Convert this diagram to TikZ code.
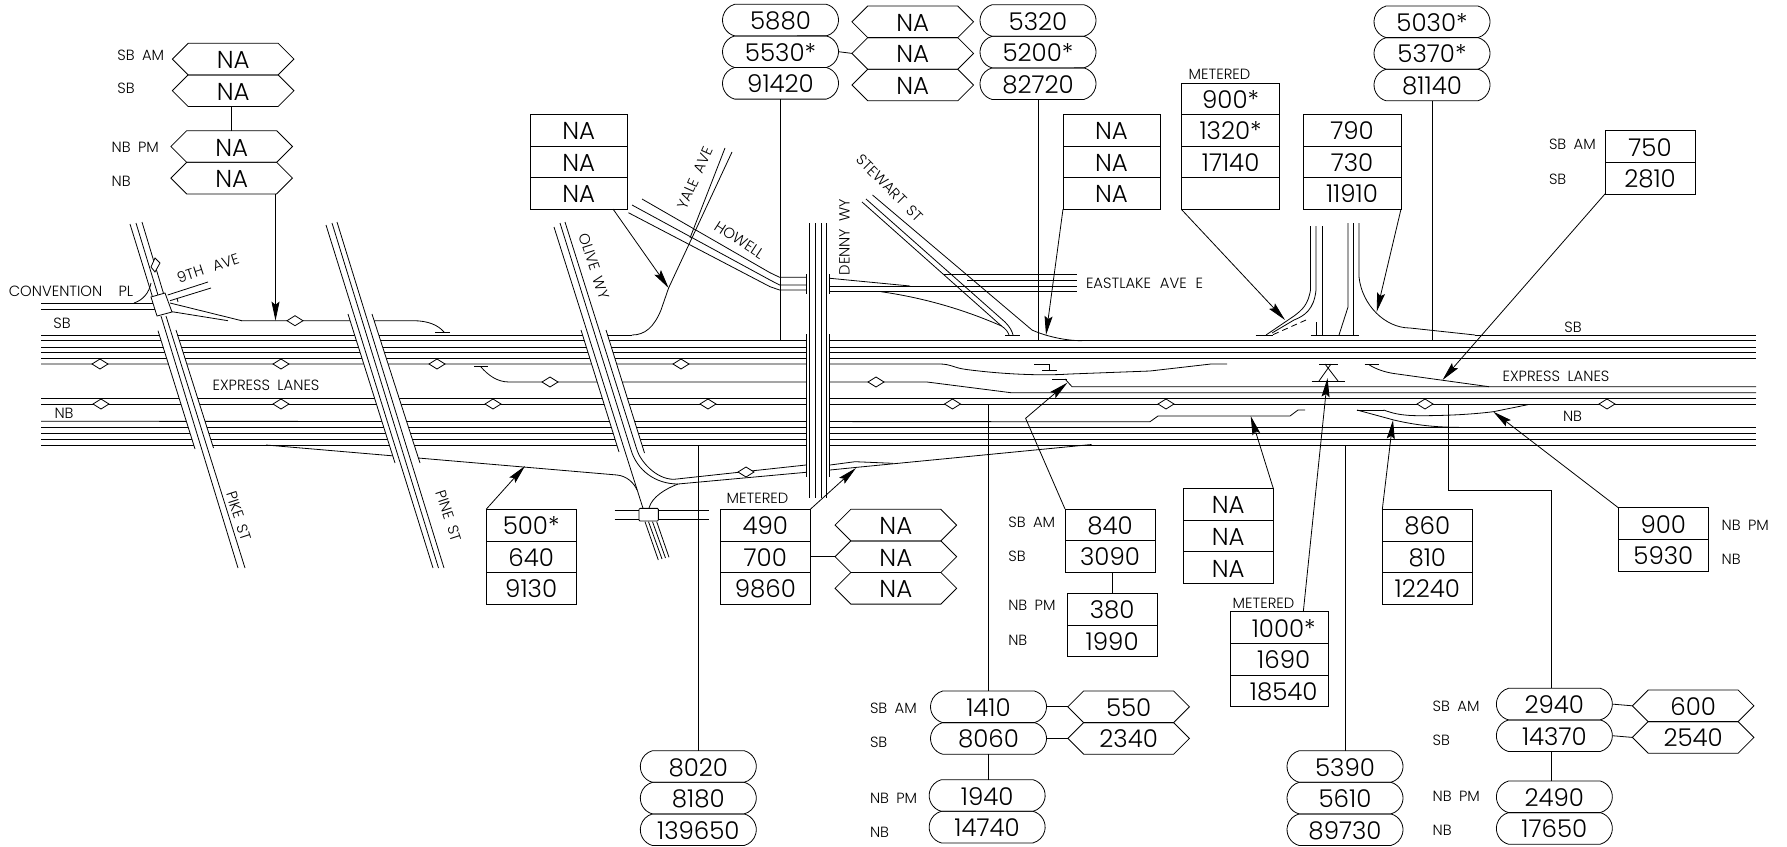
\documentclass[tikz,border=0pt]{standalone}
\usepackage{fontspec}
\setmainfont{Poppins}[UprightFont=* Light]
\usetikzlibrary{arrows.meta,shapes.geometric,shapes.symbols,shapes.misc}
\tikzset{
 ln/.style={line width=0.8pt,line join=miter},
 bigtxt/.style={font=\fontsize{24.5}{24.5}\selectfont,text height=19pt,text depth=0pt},
 rowbox/.style={draw,ln,rectangle,minimum width=90pt,minimum height=31.6pt,inner sep=0pt,outer sep=0pt,bigtxt},
 pillbox/.style={draw,ln,rounded rectangle,rounded rectangle arc length=150,minimum width=116pt,minimum height=31.6pt,inner sep=0pt,outer sep=0pt,bigtxt},
 hexbox/.style={draw,ln,signal,signal to=east and west,signal pointer angle=90,minimum width=121.6pt,minimum height=31.6pt,inner sep=0pt,outer sep=0pt,bigtxt},
 lab/.style={inner sep=0pt,outer sep=0pt,font=\fontsize{14.8}{14.8}\selectfont},
 dia/.style={draw,ln,fill=white,diamond,aspect=1.6,minimum width=16pt,minimum height=10pt,inner sep=0pt,outer sep=0pt},
 arr/.style={ln,-{Stealth[length=19pt,width=8pt,inset=3pt]}},
 bridgefill/.style={fill=white,draw=none},
}
\newcommand{\Stack}[5]{\foreach \t [count=\i] in {#5} {\node[#1] (#2-\i) at (#3,{#4+(\i-0.5)*31.6}) {\t};}}
\newcommand{\Lab}[5][]{\node[lab,#1] (#2) at (#3,#4) {#5};}
\begin{document}
\begin{tikzpicture}[x=1pt,y=-1pt,ln]
\useasboundingbox (0,0) rectangle (1787,846);
\fill[white] (0,0) rectangle (1787,846);
% ---- freeway
\foreach \y in {340.7,347,352.5,358.5,398.3,404,427.3,433.3,439,445} \draw (41,\y) -- (1756,\y);
\draw (41,335) -- (632,335);
\draw (1475,335) -- (1756,335);
\draw (41,421.3) -- (1150,421.7) -- (1158,416) -- (1290,416) -- (1298,410) -- (1305,410);
\draw (41,364) -- (940,364) .. controls (950,364) and (955,368) .. (965,369.3) .. controls (1000,374) and (1040,376) .. (1070,374) -- (1150,371) -- (1211,364) -- (1227,364);
% T marks and ramps
\draw (241,320.7) -- (413,320.7) .. controls (428,320.7) and (438,325) .. (444,332);
\draw (435,332) -- (450,332);
\draw (474,366) -- (488,366);
\draw (481,367) .. controls (488,375) and (497,382) .. (509,382) -- (927,382) -- (1011,392.7) -- (1756,392.7);
\draw (1034,364) -- (1049,364) -- (1049,370);
\draw (1042,370) -- (1057,370);
\draw (1052,379) -- (1067,379);
\draw (1065,379) -- (1072,386.7) -- (1756,386.7);
\draw (1364.5,364) -- (1378.7,364);
\draw (1369.4,365) .. controls (1376,369) and (1384,372) .. (1393.8,373.5) -- (1489,386.7);
\draw (1319.4,364) -- (1338,364);
\draw (1311.7,381) -- (1345,381);
\draw (1319,381) -- (1331,364);
\draw (1338,381) -- (1325,364);
\draw (1356.7,410) -- (1383.6,410);
\draw (1357,410) -- (1393.8,420) .. controls (1415,425) and (1435,427.3) .. (1458.8,427.3);
\draw (1383.6,410) .. controls (1392,413) and (1400,415.7) .. (1420,415.7) .. controls (1450,415.7) and (1475,414) .. (1493.3,411.7) -- (1527.8,404.7);
\draw (1255.7,335) -- (1273,335);
\draw (1310.7,335) -- (1359,335);
\draw (1005,335) -- (1019.5,335);
% on/off ramps NB side
\draw (266,445) -- (617,475) .. controls (627,476) and (634,483) .. (637,490);
\draw (649,508) .. controls (652,497) and (665,489) .. (678,484);
\draw (830,465) -- (855,461.7) -- (893,463.3);
\draw (830,470) -- (855,467.5) -- (1091.5,444.5);
% Convention PL, 9th Ave
\draw (41,303.3) -- (155,303.3);
\draw (41,309.3) -- (155,309.3);
\draw (134,303) .. controls (143,300) and (149,293) .. (151,283);
\draw (167.7,295) -- (208,282);
\draw (170,300.7) -- (211,288);
\draw (177,298) -- (178,302);
\draw (170,303) -- (241.7,320.7);
\draw (172,311.7) -- (228,320.7);
% Howell
\draw (642,199) -- (770,272.7) -- (779.6,277.3) -- (806,277.3);
\draw (632,205) -- (770,280) -- (779.6,285) -- (806,285);
\draw (628.4,212.7) -- (770,286.7) -- (779.6,290) -- (806,290);
% Yale
\draw (725,148) -- (690,238);
\draw (732,152) -- (668.6,288) -- (661,310) .. controls (654,327) and (645,335) .. (632,335);
% Eastlake
\draw (830,278.3) -- (910,286);
\draw (830,286) -- (1077,286);
\draw (830,291.7) -- (1077,291.7);
\draw (944,274.7) -- (1077,274.7);
\draw (967,280) -- (1077,280);
\draw (881,291.7) .. controls (925,298) and (965,310) .. (1001.5,326) .. controls (1006,329) and (1008,332) .. (1009,335);
% Stewart
\draw (862,202) -- (1001.5,326);
\draw (866,199) -- (1005,322) .. controls (1010,327) and (1012,331) .. (1013,335);
\draw (872.5,195) -- (1032,330) .. controls (1045,336) and (1065,340.7) .. (1082,340.7);
% right ramps
\draw (1359,223) -- (1359,277) .. controls (1362,305) and (1385,328) .. (1410,328) -- (1475,335);
\draw (1310.5,226) -- (1310.5,290) .. controls (1308,305) and (1302,310) .. (1294,316) -- (1266,335);
\draw (1316,226) -- (1316,290) .. controls (1314,310) and (1304,316) .. (1294,320) -- (1272,333);
\draw[dash pattern=on 6pt off 4pt] (1306,320) -- (1270,336);
\draw (1316,322) -- (1316,335);
\draw (1322,226) -- (1322,335);
\draw (1348,223) -- (1348,307) -- (1339,335);
\draw (1353,223) -- (1353,335);
% ---- bridges
\fill[bridgefill] (158,330.7) -- (195,449) -- (213.5,448) -- (176,330) -- cycle;
\draw (158,330.7) -- (195,449);
\draw (176,330) -- (213.5,448);
\fill[bridgefill] (348,314) -- (395,463) -- (420,463) -- (372,314) -- cycle;
\draw (348,314) -- (395,463);
\draw (372,314) -- (420,463);
\fill[bridgefill] (581,330) -- (619,452) -- (644.5,453) -- (606,330) -- cycle;
\draw (581,330) -- (619,452);
\draw (606,330) -- (644.5,453);
% Olive
\draw (554,227) -- (643,508.3);
\draw (560,223) -- (631,450) .. controls (637,470) and (655,484) .. (678,484) -- (806,472.3);
\draw (565,222) -- (637,450) .. controls (640,460) and (655,479.3) .. (674,479.3) -- (806,465);
% Denny
\fill[bridgefill] (806.4,334) rectangle (829.7,476.7);
\fill[bridgefill] (806.4,274) rectangle (829.7,294.3);
\foreach \x in {806.4,829.7} {\draw (\x,334) -- (\x,476.7); \draw (\x,274) -- (\x,294.3);}
\foreach \x in {809.4,815,821.5,826.5} \draw (\x,223) -- (\x,497.7);
% Pike, Pine
\draw (130,224) -- (155,305);
\draw (136,223) -- (161,305);
\draw (142,222) -- (167,305);
\draw (161,316) -- (238,568);
\draw (166,316) -- (245,568);
\draw (326,225) -- (433,568);
\draw (332,223) -- (438.5,568);
\draw (337,222) -- (444,568);
% junctions
\draw[fill=white] (151,297) -- (165,293) -- (172,312) -- (157,316) -- cycle;
\draw[fill=white] (155,258) -- (160,263) -- (155,272) -- (151,267) -- cycle;
\draw (614.7,510.7) -- (708.7,510.7);
\draw (614.7,519) -- (708.7,519);
\node[draw,ln,fill=white,rounded corners=1pt,minimum width=19.3pt,minimum height=12.7pt,inner sep=0pt] (olivejct) at (648.7,514.7) {};
\draw (645,521.7) -- (658.3,560);
\draw (648.5,521.7) -- (662,559);
\draw (652.5,521.7) -- (665.5,558);
\draw (656.7,521.7) -- (669,557.3);
% diamonds
\foreach \x/\y [count=\k] in {295/320.7,100/364,281/364,437/364,681/364,550/382,876/382,101/404,281/404,493/404,708/404,952.5/404,1166/404,1425/404,1607/404,746/472}
  \node[dia] (d\k) at (\x,\y) {};
% ---- stacks
\Stack{hexbox}{topa}{233.15}{43.3}{NA,NA}
\Stack{hexbox}{topb}{231.65}{130.7}{NA,NA}
\Stack{pillbox}{pa}{780.5}{4.3}{5880,5530*,91420}
\Stack{hexbox}{ha}{912.75}{6}{NA,NA,NA}
\Stack{pillbox}{pb}{1038}{4.7}{5320,5200*,82720}
\Stack{pillbox}{pc}{1432}{6}{5030*,5370*,81140}
\Stack{rowbox,minimum width=97.5pt}{ra}{578.75}{114.3}{NA,NA,NA}
\Stack{rowbox,minimum width=97pt}{rb}{1111.5}{114.3}{NA,NA,NA}
\Stack{rowbox,minimum width=98.4pt}{rc}{1230.6}{83}{900*,1320*,17140,{}}
\Stack{rowbox,minimum width=98pt}{rd}{1352}{114.3}{790,730,11910}
\Stack{rowbox}{re}{1650}{130.7}{750,2810}
\Stack{rowbox}{rf}{531.15}{509.3}{500*,640,9130}
\Stack{rowbox}{rg}{765.3}{509.3}{490,700,9860}
\Stack{hexbox}{hg}{895.85}{509.3}{NA,NA,NA}
\Stack{rowbox}{rh}{1110}{509}{840,3090}
\Stack{rowbox}{ri}{1112.15}{593.3}{380,1990}
\Stack{rowbox}{rj}{1228.3}{488.5}{NA,NA,NA}
\Stack{rowbox,minimum width=98pt}{rk}{1279.7}{611.7}{\hspace*{8pt}1000*,\hspace*{8pt}1690,\hspace*{8pt}18540}
\Stack{rowbox}{rl}{1427.3}{509.3}{860,810,12240}
\Stack{rowbox}{rm}{1663.3}{507.7}{900,5930}
\Stack{pillbox}{pd}{698.3}{750.7}{8020,8180,139650}
\Stack{pillbox}{pe}{988.5}{691}{1410,8060}
\Stack{pillbox}{pf}{987.15}{779.7}{1940,14740}
\Stack{hexbox}{he}{1128.65}{691}{550,2340}
\Stack{pillbox}{pg}{1345}{750.7}{5390,5610,89730}
\Stack{pillbox}{ph}{1554.35}{688.3}{2940,14370}
\Stack{pillbox}{pi}{1554.35}{781}{2490,17650}
\Stack{hexbox}{hh}{1693.15}{690}{600,2540}
% ---- coordinates on roads
\coordinate (sbl) at (0,340.7);
\coordinate (nbl) at (0,445);
\coordinate (exl) at (0,404);
\coordinate (tipA) at (275.5,320.7);
\coordinate (tipB) at (668.6,288);
\coordinate (tipC) at (1046,335);
\coordinate (tipD) at (1285,320);
\coordinate (tipE) at (1376.7,311.7);
\coordinate (tipF) at (1442.5,380);
\coordinate (tipG) at (525,466);
\coordinate (tipH) at (856,468);
\coordinate (tipI) at (1067.4,382.7);
\coordinate (tipJ) at (1250.7,416);
\coordinate (tipK) at (1327.5,378);
\coordinate (tipL) at (1393,420);
\coordinate (tipM) at (1493.3,411.7);
\coordinate (kinkI) at (1025.6,418.3);
\coordinate (startB) at (613,209);
\coordinate (startK) at (1303.3,611.7);
\coordinate (kinkPa) at (1448.6,490);
\coordinate (kinkPb) at (1551,490);
% ---- connectors
\draw (topb-1.north) -- (topb-1.north |- topa-2.south);
\draw (pa-3.south) -- (pa-3.south |- sbl);
\draw (pa-2.east) -- (ha-2.west);
\draw (pb-3.south) -- (pb-3.south |- sbl);
\draw (pc-3.south) -- (pc-3.south |- sbl);
\draw (pd-1.north) -- (pd-1.north |- nbl);
\draw (pe-1.north) -- (pe-1.north |- exl);
\draw (pf-1.north -| pe-2.south) -- (pe-2.south);
\draw (pe-1.east) -- (he-1.west);
\draw (pe-2.east) -- (he-2.west);
\draw (pg-1.north) -- (pg-1.north |- nbl);
\draw (kinkPb |- ph-1.north) -- (kinkPb) -- (kinkPa) -- (kinkPa |- exl);
\draw (kinkPb |- ph-2.south) -- (kinkPb |- pi-1.north);
\draw (ph-1.east) -- (hh-1.west);
\draw (ph-2.east) -- (hh-2.west);
\draw (rh-2.south -| ri-1.north) -- (ri-1.north);
\draw (rg-2.east) -- (hg-2.west);
\draw[arr] (topb-2.south -| tipA) -- (tipA);
\draw[arr] (startB) -- (tipB);
\draw[arr] (rb-3.south west) -- (tipC);
\draw[arr] (rc-4.south west) -- (tipD);
\draw[arr] (rd-3.south east) -- (tipE);
\draw[arr] (re-2.south west) -- (tipF);
\draw[arr] (rf-1.north west) -- (tipG);
\draw[arr] (rg-1.north east) -- (tipH);
\draw[arr] (rh-1.north west) -- (kinkI) -- (tipI);
\draw[arr] (rj-1.north east) -- (tipJ);
\draw[arr] (startK) -- (tipK);
\draw[arr] (rl-1.north west) -- (tipL);
\draw[arr] (rm-1.north west) -- (tipM);
% ---- labels
\Lab{l1}{71}{291.7}{CONVENTION\hspace{1.1em}PL}
\Lab[rotate=18]{l2}{208}{268}{9TH\hspace{0.7em}AVE}
\Lab{l3}{62}{323}{SB}
\Lab{l4}{64}{413}{NB}
\Lab{l5}{266}{385.7}{EXPRESS\hspace{0.5em}LANES}
\Lab[rotate=-72]{l6}{239}{516}{PIKE\hspace{0.5em}ST}
\Lab[rotate=-72]{l7}{449}{516}{PINE\hspace{0.5em}ST}
\Lab[rotate=-72]{l8}{594}{266}{OLIVE\hspace{0.5em}WY}
\Lab[rotate=66]{l9}{695}{178}{YALE\hspace{0.5em}AVE}
\Lab[rotate=-33]{l10}{739.4}{240}{HOWELL}
\Lab[rotate=90]{l11}{844.5}{237}{DENNY\hspace{0.5em}WY}
\Lab[rotate=-45]{l12}{890}{188}{STEWART\hspace{0.5em}ST}
\Lab[anchor=west]{l13}{1086}{283}{EASTLAKE\hspace{0.6em}AVE\hspace{0.6em}E}
\Lab{l14}{1573}{327}{SB}
\Lab{l15}{1556}{376}{EXPRESS\hspace{0.5em}LANES}
\Lab{l16}{1572.5}{416.7}{NB}
\Lab[anchor=west]{m1}{1188.7}{74}{METERED}
\Lab[anchor=west]{m2}{726.7}{498.3}{METERED}
\Lab[anchor=west]{m3}{1232.7}{603.3}{METERED}
\Lab[anchor=west]{a1}{117.3}{55}{SB\hspace{0.5em}AM}
\Lab[anchor=west]{a2}{117.3}{88.3}{SB}
\Lab[anchor=west]{a3}{111.7}{147.3}{NB\hspace{0.5em}PM}
\Lab[anchor=west]{a4}{111.7}{181.7}{NB}
\Lab[anchor=west]{b1}{1549}{144.7}{SB\hspace{0.5em}AM}
\Lab[anchor=west]{b2}{1549}{179}{SB}
\Lab[anchor=west]{c1}{1008.3}{522.3}{SB\hspace{0.5em}AM}
\Lab[anchor=west]{c2}{1008.3}{556.7}{SB}
\Lab[anchor=west]{c3}{1008.3}{605.3}{NB\hspace{0.5em}PM}
\Lab[anchor=west]{c4}{1008.3}{640}{NB}
\Lab[anchor=west]{e1}{870}{708.3}{SB\hspace{0.5em}AM}
\Lab[anchor=west]{e2}{870}{742.7}{SB}
\Lab[anchor=west]{e3}{870}{798.3}{NB\hspace{0.5em}PM}
\Lab[anchor=west]{e4}{870}{832.7}{NB}
\Lab[anchor=west]{g1}{1432.7}{706}{SB\hspace{0.5em}AM}
\Lab[anchor=west]{g2}{1432.7}{740}{SB}
\Lab[anchor=west]{g3}{1432.7}{796}{NB\hspace{0.5em}PM}
\Lab[anchor=west]{g4}{1432.7}{830.7}{NB}
\Lab[anchor=west]{h1}{1721.7}{525}{NB\hspace{0.5em}PM}
\Lab[anchor=west]{h2}{1721.7}{559.3}{NB}
\end{tikzpicture}
\end{document}
